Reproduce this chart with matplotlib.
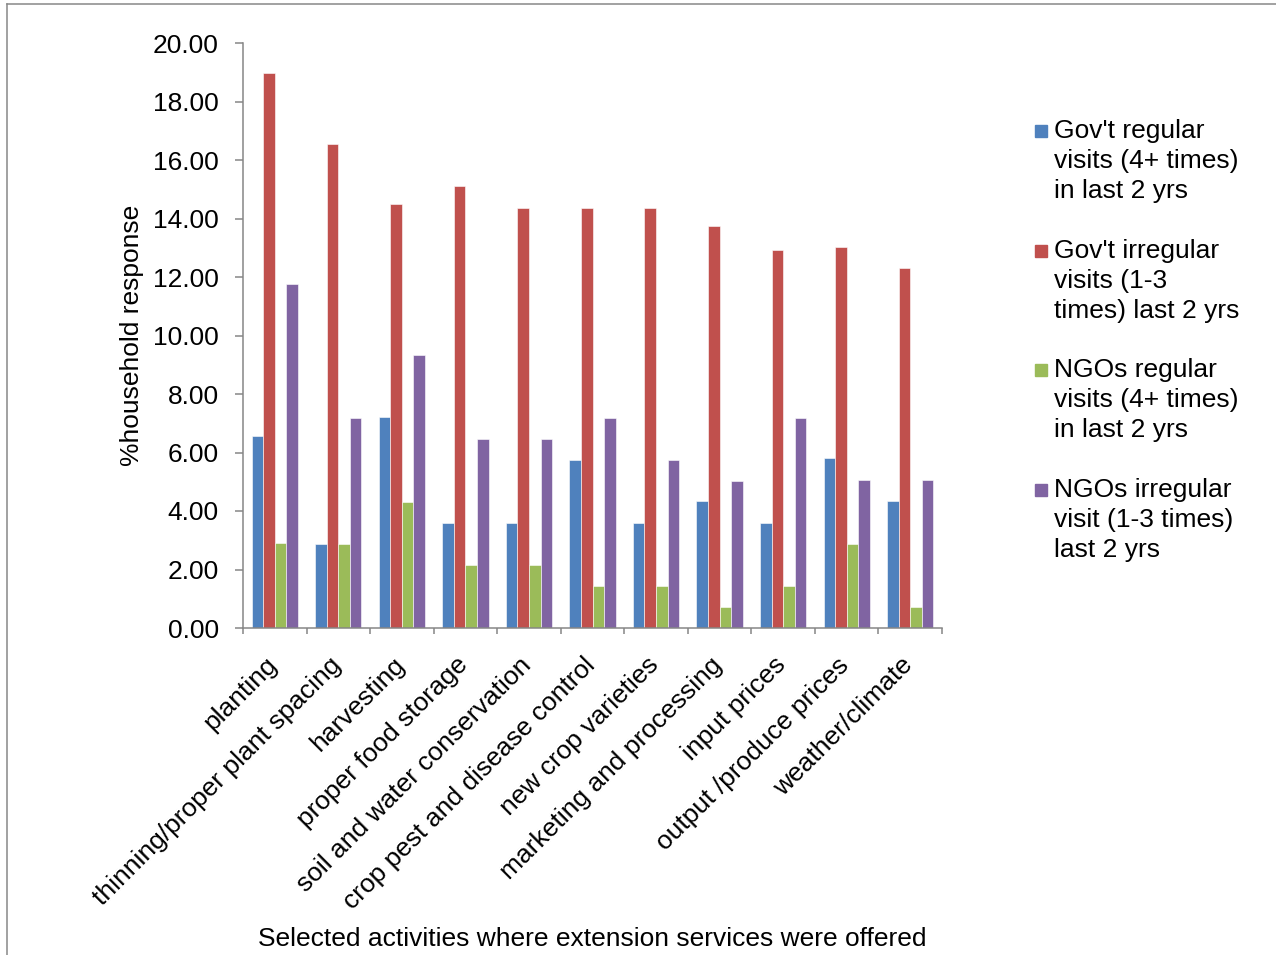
import matplotlib
matplotlib.use('Agg')
import matplotlib.pyplot as plt
import matplotlib.transforms as mtransforms
from matplotlib.lines import Line2D
from matplotlib.patches import Rectangle
import numpy as np

plt.rcParams['font.family'] = ['Liberation Sans', 'DejaVu Sans']

# activities on the x axis
activities = ['planting', 'thinning/proper plant spacing', 'harvesting',
              'proper food storage', 'soil and water conservation',
              'crop pest and disease control', 'new crop varieties',
              'marketing and processing', 'input prices',
              'output /produce prices', 'weather/climate']

# % household response
gov_regular = [6.56, 2.87, 7.23, 3.58, 3.58, 5.76, 3.58, 4.34, 3.58, 5.80, 4.34]
gov_irregular = [18.97, 16.55, 14.48, 15.11, 14.37, 14.37, 14.37, 13.76, 12.94, 13.03, 12.31]
ngo_regular = [2.90, 2.87, 4.31, 2.14, 2.14, 1.43, 1.43, 0.71, 1.43, 2.87, 0.71]
ngo_irregular = [11.76, 7.18, 9.35, 6.47, 6.47, 7.18, 5.75, 5.03, 7.18, 5.05, 5.05]

series_names = ["Gov't regular\nvisits (4+ times)\nin last 2 yrs",
                "Gov't irregular\nvisits (1-3\ntimes) last 2 yrs",
                "NGOs regular\nvisits (4+ times)\nin last 2 yrs",
                "NGOs irregular\nvisit (1-3 times)\nlast 2 yrs"]
colors = ['#4F81BD', '#C0504D', '#9BBB59', '#8064A2']

FS = 19
W, H = 1276, 955
fig = plt.figure(figsize=(W / 100, H / 100), dpi=100)
ax = fig.add_axes([243 / W, 1 - 628 / H, (942 - 243) / W, (628 - 43) / H])

x = np.arange(len(activities))
bw = 1 / 5.5
all_series = [gov_regular, gov_irregular, ngo_regular, ngo_irregular]
for k, (vals, col) in enumerate(zip(all_series, colors)):
    ax.bar(x + (k - 1.5) * bw, vals, width=bw, color=col,
           edgecolor='white', linewidth=0.4)

ax.set_xlim(-0.5, len(activities) - 0.5)
ax.set_ylim(0, 20)

# y axis
ax.set_yticks(np.arange(0, 20.01, 2))
ax.set_yticklabels(['%.2f' % v for v in np.arange(0, 20.01, 2)])
ax.tick_params(axis='y', length=5.5, width=1.1, color='#868686', pad=12,
               labelsize=FS)

# x axis: ticks between groups, labels at group centres
ax.set_xticks(np.arange(-0.5, len(activities), 1))
ax.set_xticklabels([])
ax.set_xticks(x, minor=True)
ax.set_xticklabels(activities, minor=True, rotation=45, ha='right',
                   va='center', rotation_mode='anchor')
ax.tick_params(axis='x', which='major', length=4.5, width=1.1, color='#868686')
ax.tick_params(axis='x', which='minor', length=0, pad=24, labelsize=FS)
offset = mtransforms.ScaledTranslation(-1 / 100, 0, fig.dpi_scale_trans)
for lab in ax.get_xticklabels(minor=True):
    lab.set_transform(lab.get_transform() + offset)

for side in ['top', 'right']:
    ax.spines[side].set_visible(False)
for side in ['left', 'bottom']:
    ax.spines[side].set_color('#868686')
    ax.spines[side].set_linewidth(1.1)

ax.set_ylabel('%household response', fontsize=FS)
ax.yaxis.set_label_coords((144 - 243) / (942 - 243), 0.5)

fig.text(592.5 / W, 1 - 946 / H,
         'Selected activities where extension services were offered',
         ha='center', va='baseline', fontsize=FS)

# legend drawn by hand: square next to the first line of each entry
for k, (name, col) in enumerate(zip(series_names, colors)):
    base = 138 + k * 119.7
    fig.patches.append(Rectangle((1035 / W, 1 - (base - 1) / H), 12 / W, 12 / H,
                                 transform=fig.transFigure, color=col))
    for j, line in enumerate(name.split('\n')):
        fig.text(1054 / W, 1 - (base + j * 30) / H, line, ha='left',
                 va='baseline', fontsize=FS)

# chart frame (left and top edge visible)
fig.add_artist(Line2D([7 / W, 7 / W], [0, 1 - 4 / H], color='#888888', lw=1.1,
                      transform=fig.transFigure))
fig.add_artist(Line2D([7 / W, 1], [1 - 4 / H, 1 - 4 / H], color='#888888', lw=1.1,
                      transform=fig.transFigure))

fig.savefig('out.png', dpi=100)
